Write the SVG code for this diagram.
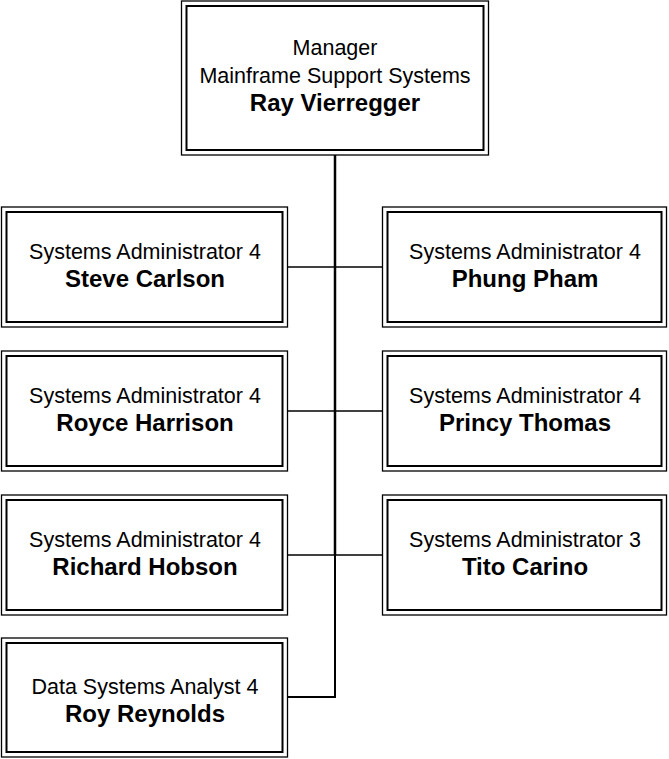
<svg xmlns="http://www.w3.org/2000/svg" width="669" height="759" viewBox="0 0 669 759">
<style>
.o{fill:#fff;stroke:#000;stroke-width:1.3}
.i{fill:none;stroke:#000;stroke-width:2}
.t{font-family:"Liberation Sans",Arial,sans-serif;font-size:21.5px;fill:#000;text-anchor:middle}
.b{font-family:"Liberation Sans",Arial,sans-serif;font-size:24px;font-weight:bold;fill:#000;text-anchor:middle}
.c{fill:none;stroke:#000}
</style>
<rect width="669" height="759" fill="#fff"/>
<g id="connectors">
<line class="c" x1="335" y1="155" x2="335" y2="555" stroke-width="2.5"/>
<path class="c" d="M335 555V697H288" stroke-width="2"/>
<line class="c" x1="288" y1="267" x2="383" y2="267" stroke-width="1.3"/>
<line class="c" x1="288" y1="411" x2="383" y2="411" stroke-width="1.3"/>
<line class="c" x1="288" y1="555" x2="383" y2="555" stroke-width="1.3"/>
</g>
<g id="manager">
<rect class="o" x="181.5" y="1" width="307" height="154"/>
<rect class="i" x="186.5" y="6" width="297" height="144"/>
<text class="t" x="335" y="55">Manager</text>
<text class="t" x="335" y="83">Mainframe Support Systems</text>
<text class="b" x="335" y="111">Ray Vierregger</text>
</g>
<g id="steve">
<rect class="o" x="1.5" y="207" width="286" height="120"/>
<rect class="i" x="6.5" y="212" width="276" height="110"/>
<text class="t" x="145" y="259">Systems Administrator 4</text>
<text class="b" x="145" y="287">Steve Carlson</text>
</g>
<g id="phung">
<rect class="o" x="382.5" y="207" width="284" height="120"/>
<rect class="i" x="387.5" y="212" width="274" height="110"/>
<text class="t" x="525" y="259">Systems Administrator 4</text>
<text class="b" x="525" y="287">Phung Pham</text>
</g>
<g id="royce">
<rect class="o" x="1.5" y="351" width="286" height="120"/>
<rect class="i" x="6.5" y="356" width="276" height="110"/>
<text class="t" x="145" y="403">Systems Administrator 4</text>
<text class="b" x="145" y="431">Royce Harrison</text>
</g>
<g id="princy">
<rect class="o" x="382.5" y="351" width="284" height="120"/>
<rect class="i" x="387.5" y="356" width="274" height="110"/>
<text class="t" x="525" y="403">Systems Administrator 4</text>
<text class="b" x="525" y="431">Princy Thomas</text>
</g>
<g id="richard">
<rect class="o" x="1.5" y="495" width="286" height="120"/>
<rect class="i" x="6.5" y="500" width="276" height="110"/>
<text class="t" x="145" y="547">Systems Administrator 4</text>
<text class="b" x="145" y="575">Richard Hobson</text>
</g>
<g id="tito">
<rect class="o" x="382.5" y="495" width="284" height="120"/>
<rect class="i" x="387.5" y="500" width="274" height="110"/>
<text class="t" x="525" y="547">Systems Administrator 3</text>
<text class="b" x="525" y="575">Tito Carino</text>
</g>
<g id="roy">
<rect class="o" x="1.5" y="638" width="286" height="119"/>
<rect class="i" x="6.5" y="643" width="276" height="109"/>
<text class="t" x="145" y="694">Data Systems Analyst 4</text>
<text class="b" x="145" y="722">Roy Reynolds</text>
</g>
</svg>
